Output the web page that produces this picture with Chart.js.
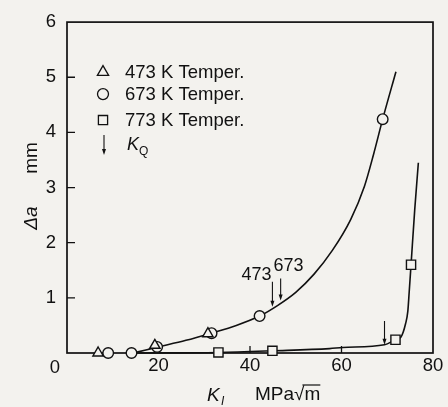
<!DOCTYPE html>
<html>
<head>
<meta charset="utf-8">
<script src="https://cdn.jsdelivr.net/npm/chart.js@4.4.0/dist/chart.umd.min.js"></script>
<style>
  html, body { margin: 0; padding: 0; background: #f3f2ee; }
  canvas { display: block; }
</style>
</head>
<body>
<canvas id="daChart" width="448" height="407"></canvas>
<script>
// measured points, K_I (MPa√m) vs Δa (mm)
const kTri = [6.8, 19.2, 30.8];              // 473 K temper
const aTri = [0, 0.14, 0.35];
const kCirc = [9.0, 14.1, 19.7, 31.6, 42.1, 69.0];   // 673 K temper
const aCirc = [0, 0, 0.11, 0.36, 0.67, 4.24];
const kSq = [33.1, 44.9, 71.8, 75.2];        // 773 K temper
const aSq = [0.01, 0.04, 0.24, 1.6];

// hand drawn curves
const curveLowK = [14.5, 17, 20, 26, 31.5, 37, 42.1, 46, 50, 54, 58, 62, 65, 67, 69, 71.9];
const curveLowA = [0, 0.05, 0.11, 0.23, 0.36, 0.5, 0.67, 0.86, 1.1, 1.43, 1.86, 2.42, 3.02, 3.6, 4.24, 5.1];
const curveHighK = [14.5, 33, 45, 57.4, 60.3, 69.4, 71.8, 73, 74, 74.5, 74.8, 75.2, 76.0, 76.8];
const curveHighA = [0, 0.01, 0.04, 0.08, 0.1, 0.15, 0.24, 0.29, 0.53, 0.76, 1.11, 1.6, 2.59, 3.45];

// K_Q arrows
const arrowK = [44.9, 46.7, 69.4];
const arrowTop = [1.29, 1.35, 0.58];
const arrowTip = [0.84, 0.95, 0.15];
const tagText = ['473', '673'];
const tagK = [41.4, 48.4];
const tagA = [1.41, 1.58];

const xTicks = [0, 20, 40, 60, 80];
const yTicks = [0, 1, 2, 3, 4, 5, 6];

const ink = '#111111';
const paper = '#f3f2ee';
const fam = '"Liberation Sans", Arial, sans-serif';

function pts(xs, ys) {
  return xs.map((x, i) => ({ x: x, y: ys[i] }));
}

function marker(label, xs, ys, style, r) {
  return {
    label: label, data: pts(xs, ys), showLine: false, order: 0, clip: false,
    pointStyle: style, pointRadius: r, pointBorderWidth: 1.4,
    pointBackgroundColor: paper, pointBorderColor: ink
  };
}

function curve(xs, ys) {
  return {
    data: pts(xs, ys), showLine: true, order: 1, clip: false,
    pointRadius: 0, borderColor: ink, borderWidth: 1.6,
    cubicInterpolationMode: 'monotone'
  };
}

function arrow(ctx, x, y1, y2) {
  ctx.beginPath();
  ctx.moveTo(x, y1);
  ctx.lineTo(x, y2 - 4);
  ctx.stroke();
  ctx.beginPath();
  ctx.moveTo(x - 2, y2 - 6);
  ctx.lineTo(x + 2, y2 - 6);
  ctx.lineTo(x, y2);
  ctx.closePath();
  ctx.fill();
}

const figurePlugin = {
  id: 'figure',
  beforeDraw(chart) {
    const ctx = chart.ctx;
    ctx.save();
    ctx.fillStyle = paper;
    ctx.fillRect(0, 0, chart.width, chart.height);
    ctx.restore();
  },
  beforeDatasetsDraw(chart) {
    const { ctx, chartArea: a, scales } = chart;
    ctx.save();
    ctx.strokeStyle = ink;
    ctx.lineWidth = 1.7;
    ctx.strokeRect(a.left, a.top, a.right - a.left, a.bottom - a.top);
    ctx.lineWidth = 1.3;
    ctx.beginPath();
    yTicks.slice(1, -1).forEach(v => {
      const y = scales.y.getPixelForValue(v);
      ctx.moveTo(a.left, y);
      ctx.lineTo(a.left + 8, y);
    });
    xTicks.slice(1, -1).forEach(v => {
      const x = scales.x.getPixelForValue(v);
      ctx.moveTo(x, a.bottom);
      ctx.lineTo(x, a.bottom - 7);
    });
    ctx.stroke();
    ctx.restore();
  },
  afterDatasetsDraw(chart) {
    const { ctx, chartArea: a, scales } = chart;
    const sx = scales.x, sy = scales.y;
    ctx.save();
    ctx.strokeStyle = ink;
    ctx.fillStyle = ink;
    ctx.lineWidth = 1.1;
    arrowK.forEach((k, i) => {
      arrow(ctx, sx.getPixelForValue(k), sy.getPixelForValue(arrowTop[i]), sy.getPixelForValue(arrowTip[i]));
    });
    ctx.font = '18px ' + fam;
    ctx.textAlign = 'center';
    ctx.textBaseline = 'middle';
    tagText.forEach((t, i) => {
      ctx.fillText(t, sx.getPixelForValue(tagK[i]), sy.getPixelForValue(tagA[i]));
    });

    // legend
    const mx = a.left + 36, tx = a.left + 58;
    const rows = [
      { y: a.top + 50, style: 'triangle', r: 6.5, text: '473 K Temper.' },
      { y: a.top + 72, style: 'circle', r: 5.5, text: '673 K Temper.' },
      { y: a.top + 98, style: 'rect', r: 6.5, text: '773 K Temper.' }
    ];
    ctx.textAlign = 'left';
    ctx.font = '18.5px ' + fam;
    rows.forEach(row => {
      ctx.fillStyle = paper;
      ctx.lineWidth = 1.3;
      Chart.helpers.drawPoint(ctx, { pointStyle: row.style, radius: row.r, borderWidth: 1.3 }, mx, row.y);
      ctx.fillStyle = ink;
      ctx.fillText(row.text, tx, row.y + 1);
    });
    ctx.lineWidth = 1.1;
    arrow(ctx, mx + 1, a.top + 113, a.top + 133);
    ctx.font = 'italic 18px ' + fam;
    ctx.textBaseline = 'alphabetic';
    ctx.fillText('K', tx + 2, a.top + 128);
    ctx.font = '12px ' + fam;
    ctx.fillText('Q', tx + 14, a.top + 133);

    // corner zero
    ctx.font = '18.5px ' + fam;
    ctx.textAlign = 'center';
    ctx.textBaseline = 'middle';
    ctx.fillText('0', a.left - 12, a.bottom + 15);

    // y title
    ctx.save();
    ctx.translate(32, 218);
    ctx.rotate(-Math.PI / 2);
    ctx.font = 'italic 19px ' + fam;
    ctx.fillText('\u0394a', 0, 0);
    ctx.restore();
    ctx.save();
    ctx.translate(32, 158);
    ctx.rotate(-Math.PI / 2);
    ctx.font = '19px ' + fam;
    ctx.fillText('mm', 0, 0);
    ctx.restore();

    // x title
    ctx.textAlign = 'left';
    ctx.textBaseline = 'alphabetic';
    ctx.font = 'italic 19px ' + fam;
    ctx.fillText('K', 207, 401);
    ctx.font = 'italic 12px ' + fam;
    ctx.fillText('I', 221, 405);
    ctx.font = '19px ' + fam;
    const pre = 'MPa\u221A';
    ctx.fillText(pre + 'm', 255, 400);
    const w0 = ctx.measureText('MPa').width + ctx.measureText('\u221A').width * 0.8;
    const w1 = ctx.measureText(pre + 'm').width;
    ctx.lineWidth = 1.2;
    ctx.beginPath();
    ctx.moveTo(255 + w0, 385);
    ctx.lineTo(255 + w1, 385);
    ctx.stroke();
    ctx.restore();
  }
};

const tickFont = { family: fam, size: 18.5 };

new Chart(document.getElementById('daChart'), {
  type: 'scatter',
  data: {
    datasets: [
      marker('473 K Temper.', kTri, aTri, 'triangle', 6),
      marker('673 K Temper.', kCirc, aCirc, 'circle', 5.3),
      marker('773 K Temper.', kSq, aSq, 'rect', 6.5),
      curve(curveLowK, curveLowA),
      curve(curveHighK, curveHighA)
    ]
  },
  options: {
    responsive: false,
    animation: false,
    devicePixelRatio: 1,
    layout: { padding: { top: 14, right: 15, left: 0, bottom: 0 } },
    plugins: { legend: { display: false }, tooltip: { enabled: false } },
    scales: {
      x: {
        type: 'linear', min: 0, max: 80,
        afterBuildTicks: s => { s.ticks = xTicks.map(v => ({ value: v })); },
        afterFit: s => { s.height = 54; },
        grid: { display: false, drawTicks: false }, border: { display: false },
        ticks: { padding: 2, color: ink, font: tickFont, maxRotation: 0,
                 callback: v => v === 0 ? '' : v }
      },
      y: {
        type: 'linear', min: 0, max: 6,
        afterBuildTicks: s => { s.ticks = yTicks.map(v => ({ value: v })); },
        afterFit: s => { s.width = 67; },
        grid: { display: false, drawTicks: false }, border: { display: false },
        ticks: { padding: 11, color: ink, font: tickFont,
                 callback: v => v === 0 ? '' : v }
      }
    }
  },
  plugins: [figurePlugin]
});
</script>
</body>
</html>
